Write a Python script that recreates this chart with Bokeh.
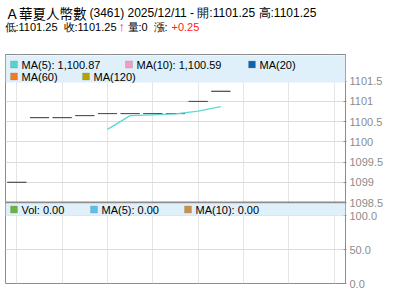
from bokeh.plotting import figure
from bokeh.layouts import column
from bokeh.models import Range1d, FixedTicker, Span, BoxAnnotation, Label
from bokeh.embed import file_html
from bokeh.resources import INLINE

# ---------------- data ----------------
idx = [0, 1, 2, 3, 4, 5, 6, 7, 8, 9]
opens = [1099.0, 1100.6, 1100.6, 1100.65, 1100.7, 1100.7, 1100.7, 1100.7, 1101.0, 1101.25]
highs = [1099.0, 1100.6, 1100.6, 1100.65, 1100.7, 1100.7, 1100.7, 1100.7, 1101.0, 1101.25]
lows = [1099.0, 1100.6, 1100.6, 1100.65, 1100.7, 1100.7, 1100.7, 1100.7, 1101.0, 1101.25]
closes = [1099.0, 1100.6, 1100.6, 1100.65, 1100.7, 1100.7, 1100.7, 1100.7, 1101.0, 1101.25]
volumes = [0, 0, 0, 0, 0, 0, 0, 0, 0, 0]
ma5_x = [4, 5, 6, 7, 8, 9]
ma5_vals = [1100.31, 1100.65, 1100.67, 1100.69, 1100.76, 1100.87]

price_ticks = [1098.5, 1099.0, 1099.5, 1100.0, 1100.5, 1101.0, 1101.5]
price_tick_labels = ["1098.5", "1099", "1099.5", "1100", "1100.5", "1101", "1101.5"]
vol_ticks = [0, 50, 100]
vol_tick_labels = ["0.0", "50.0", "100.0"]

main_legend = [("MA(5): 1,100.87", "#4fd3cf"), ("MA(10): 1,100.59", "#f59ac3"),
               ("MA(20)", "#0b63b2"), ("MA(60)", "#f47a20"), ("MA(120)", "#b3a400")]
vol_legend = [("Vol: 0.00", "#6ab43e"), ("MA(5): 0.00", "#58c0ec"), ("MA(10): 0.00", "#c8914b")]

# header texts
title_text = "Ａ華夏人幣數"
header_line1 = "(3461) 2025/12/11 - 開:1101.25 高:1101.25"
header_line2 = ["低:1101.25", "收:1101.25", "↑", "量:0", "漲:", "+0.25"]

# ---------------- ranges ----------------
P_LO, P_HI = 1096.5, 1102.16
V_LO, V_HI = 0.0, 336.8
FRAME_W, FRAME_H = 340, 229

def vol_to_price(v):
    return P_LO + (v - V_LO) / (V_HI - V_LO) * (P_HI - P_LO)

FONT = "Liberation Sans"
GRAY = "#8c8c8c"
RED = "#ff2020"

# ---------------- header ----------------
# frame spans pixel columns 5..345 (same as the chart below), so data x == pixel x
hdr = figure(width=400, height=54, x_range=Range1d(5, 345), y_range=Range1d(54, 0),
             toolbar_location=None, output_backend="svg",
             x_axis_location=None, y_axis_location=None,
             min_border=0, min_border_left=5, min_border_right=55,
             min_border_top=0, min_border_bottom=0)
hdr.grid.visible = False
hdr.outline_line_color = None

def hlabel(fig, x, y, text, color="#000000", size="11px", font=FONT, style="normal"):
    fig.add_layout(Label(x=x, y=y, text=text, text_color=color, text_font_size=size,
                         text_font=font, text_baseline="middle", text_align="left",
                         text_font_style=style))

hlabel(hdr, 5, 12, title_text, size="13.5px", font="Noto Sans CJK TC")
hlabel(hdr, 89, 12, header_line1, size="12px")
line2_x = [4, 63, 118, 127, 153, 171]
line2_col = ["#000000", "#000000", RED, "#000000", "#000000", RED]
for x, t, c in zip(line2_x, header_line2, line2_col):
    hlabel(hdr, x, 26, t, color=c, size="13px" if t == "↑" else "11px",
           style="bold" if t == "↑" else "normal")

# ---------------- main + volume ----------------
p = figure(width=400, height=247, x_range=Range1d(-0.5, 14.5), y_range=Range1d(P_LO, P_HI),
           toolbar_location=None, output_backend="svg",
           x_axis_location=None, y_axis_location="right",
           min_border_left=5, min_border_right=55, min_border_top=0, min_border_bottom=18)
p.extra_x_ranges = {"px": Range1d(0, FRAME_W)}
p.extra_y_ranges = {"py": Range1d(FRAME_H, 0), "vol": Range1d(V_LO, V_HI)}
p.outline_line_color = GRAY
p.outline_line_width = 1
p.background_fill_color = "white"

all_ticks = price_ticks + [vol_to_price(v) for v in vol_ticks]
all_labels = price_tick_labels + vol_tick_labels
ticker = FixedTicker(ticks=all_ticks)

ax = p.yaxis[0]
ax.ticker = ticker
ax.major_label_overrides = {t: l for t, l in zip(all_ticks, all_labels)}
ax.axis_line_color = GRAY
ax.major_tick_line_color = GRAY
ax.major_tick_in = 2
ax.major_tick_out = 1
ax.minor_tick_line_color = None
ax.major_label_text_color = GRAY
ax.major_label_text_font_size = "11px"
ax.major_label_text_font = FONT
ax.major_label_standoff = 3

p.ygrid.ticker = ticker
p.ygrid.grid_line_color = "#dcdcdc"

# candles
p.segment(x0=idx, y0=lows, x1=idx, y1=highs, line_color="#555555", line_width=1)
p.vbar(x=idx, bottom=opens, top=closes, width=0.84, fill_color="#555555",
       line_color="#555555", line_width=1)
# MA5
p.line(x=ma5_x, y=ma5_vals, line_color="#5cd9d5", line_width=1.3)
# volume bars
p.vbar(x=idx, bottom=0, top=volumes, width=0.84, fill_color="#6ab43e", line_color=None,
       y_range_name="vol")

# separator between price and volume panels
p.add_layout(Span(location=1098.5, dimension="width", line_color=GRAY, line_width=2))

# legend backgrounds
LEG_BG = "#dff0fa"
p.add_layout(BoxAnnotation(left=0, right=FRAME_W, top=1, bottom=28, x_range_name="px",
                           y_range_name="py", fill_color=LEG_BG, fill_alpha=1, line_color=None))
p.add_layout(BoxAnnotation(left=0, right=FRAME_W, top=149, bottom=161, x_range_name="px",
                           y_range_name="py", fill_color=LEG_BG, fill_alpha=1, line_color=None))

def legend_item(x, y, text, color):
    p.add_layout(BoxAnnotation(left=x, right=x + 7, top=y - 3.5, bottom=y + 3.5,
                               x_range_name="px", y_range_name="py", fill_color=color,
                               fill_alpha=1, line_color=GRAY, line_width=1))
    p.add_layout(Label(x=x + 11, y=y, text=text, x_range_name="px", y_range_name="py",
                       text_font=FONT, text_font_size="11px", text_color="#000000",
                       text_baseline="middle", text_align="left"))

main_pos = [(5, 10), (120, 10), (243, 10), (5, 22), (77, 22)]
for (x, y), (t, c) in zip(main_pos, main_legend):
    legend_item(x, y, t, c)
vol_pos = [(5, 155), (85, 155), (179, 155)]
for (x, y), (t, c) in zip(vol_pos, vol_legend):
    legend_item(x, y, t, c)

layout = column(hdr, p, spacing=0)
open("out.html", "w").write(file_html(layout, INLINE))
